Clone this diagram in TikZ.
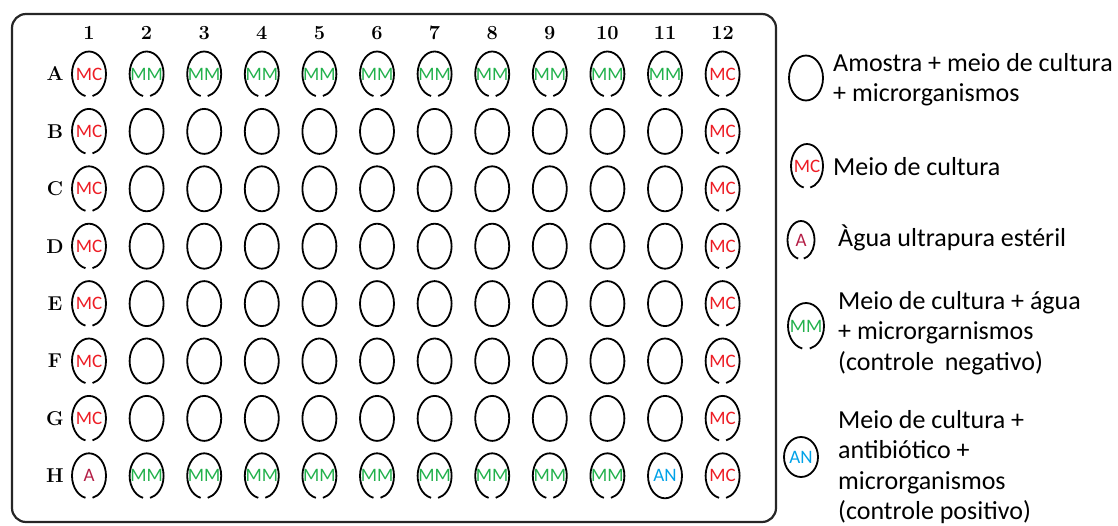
\documentclass[tikz,border=0pt]{standalone}
\usepackage{fontspec}
\newfontfamily\calfont{Carlito}
\usetikzlibrary{shapes.geometric}
\definecolor{mcred}{RGB}{237,28,36}
\definecolor{mmgreen}{RGB}{34,177,76}
\definecolor{anblue}{RGB}{0,162,232}
\definecolor{agred}{RGB}{180,30,70}
\newcommand{\gapring}[3]{%
  \draw[ring] (#1.center) ++(102:#2 and #3)
    arc[start angle=102, end angle=438, x radius=#2, y radius=#3];}
\tikzset{
  well/.style   ={draw, ellipse, minimum width=34pt, minimum height=45pt,
                  inner sep=0pt, line width=1.8pt},
  gapwell/.style={well, draw=none},
  ring/.style   ={line width=1.8pt},
  wlbl/.style   ={font=\calfont\fontsize{19}{19}\selectfont, inner sep=0pt},
  mc/.style     ={gapwell, label={[wlbl, text=mcred]center:MC}},
  mm/.style     ={gapwell, label={[wlbl, text=mmgreen]center:MM}},
  an/.style     ={well, label={[wlbl, text=anblue]center:AN}},
  ag/.style     ={gapwell, label={[wlbl, text=agred]center:A}},
  hdr/.style    ={font=\bfseries\fontsize{20}{20}\selectfont, inner sep=0pt},
  legtxt/.style ={font=\calfont\fontsize{26}{30.5}\selectfont, align=left,
                  anchor=north west, inner sep=0pt},
  plate/.style  ={draw=black!85, line width=2.2pt, rounded corners=14pt},
}
\begin{document}
\begin{tikzpicture}[x=1pt, y=-1pt]
  \useasboundingbox (0,0) rectangle (1118,526);
  % ---- the plate
  \node[plate, minimum width=764pt, minimum height=508pt] (plate) at (394,268) {};
  \foreach \c in {1,...,12}
    \node[hdr] (col\c) at ({89+57.6*(\c-1)},33) {\c};
  % ---- rows of wells
  \foreach \r [count=\i from 0] in {A,B,C,D,E,F,G,H}{
    \pgfmathsetmacro{\yy}{74+57.4*\i}
    \node[hdr] (row\r) at (55,\yy) {\r};
    \foreach \c in {1,...,12}{
      \pgfmathsetmacro{\xx}{89+57.6*(\c-1)}
      \def\wstyle{well}
      \ifnum\i=0 \def\wstyle{mm}\fi
      \ifnum\i=7 \def\wstyle{mm}\ifnum\c=11 \def\wstyle{an}\fi\fi
      \ifnum\c=1 \def\wstyle{mc}\ifnum\i=7 \def\wstyle{ag}\fi\fi
      \ifnum\c=12 \def\wstyle{mc}\fi
      \node[\wstyle] (\r\c) at (\xx,\yy) {};
      \ifnum\i=0 \gapring{\r\c}{17}{22.5}\else
        \ifnum\c=1 \gapring{\r\c}{17}{22.5}\else
          \ifnum\c=12 \gapring{\r\c}{17}{22.5}\else
            \ifnum\i=7 \ifnum\c<11 \gapring{\r\c}{17}{22.5}\fi\fi
          \fi
        \fi
      \fi
    }
  }
  % ---- legend
  \node[well] (lgS) at (806,78) {};
  \node[legtxt] (tS) at (833,53) {Amostra + meio de cultura\\+ microrganismos};
  \node[mc, minimum width=32pt, minimum height=44pt] (lgMC) at (807,166) {};
  \gapring{lgMC}{16}{22}
  \node[legtxt] (tMC) at (833,157) {Meio de cultura};
  \node[ag, minimum width=27pt, minimum height=38pt] (lgA) at (801,240) {};
  \gapring{lgA}{13.5}{19}
  \node[legtxt] (tA) at (838,225) {Àgua ultrapura estéril};
  \node[mm, minimum width=36pt, minimum height=46pt] (lgMM) at (806,326) {};
  \gapring{lgMM}{18}{23}
  \node[legtxt] (tMM) at (838,291)
    {Meio de cultura + água\\+ microrgarnismos\\(controle\hspace{5pt} negativo)};
  \node[an, minimum width=34pt, minimum height=40pt] (lgAN) at (801,457) {};
  \node[legtxt] (tAN) at (838,410)
    {Meio de cultura +\\antibiótico +\\microrganismos\\(controle positivo)};
\end{tikzpicture}
\end{document}
